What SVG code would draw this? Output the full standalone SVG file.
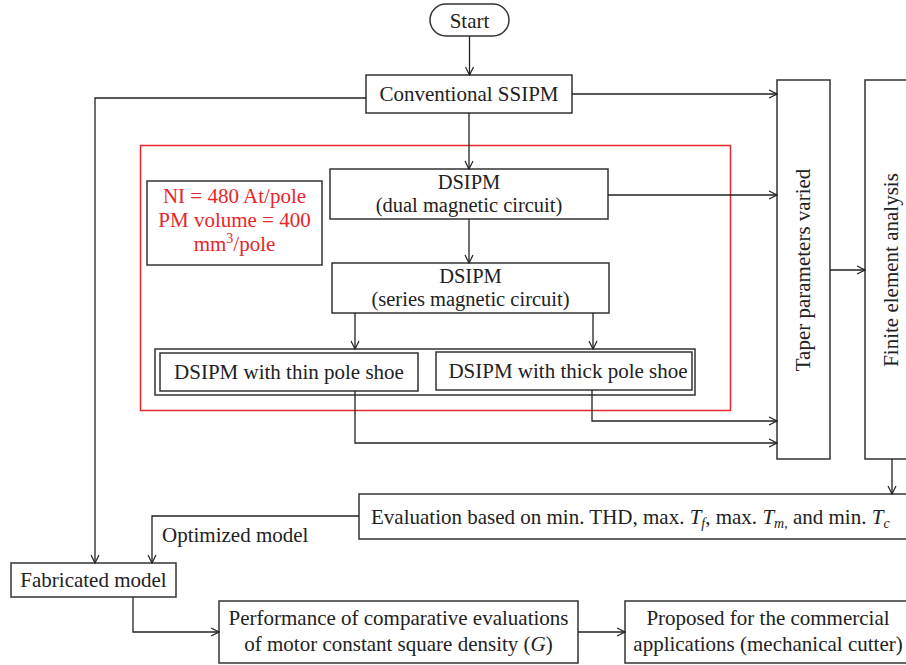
<svg xmlns="http://www.w3.org/2000/svg" width="906" height="665" viewBox="0 0 906 665">
<defs>
<marker id="arr" viewBox="0 0 10 10" refX="9" refY="5" markerWidth="10" markerHeight="10" markerUnits="userSpaceOnUse" orient="auto">
<path d="M1,1 L9,5 L1,9" fill="none" stroke="#222" stroke-width="1.2"/>
</marker>
<style>
.box{fill:#fff;stroke:#333;stroke-width:1.5}
.t{font-family:"Liberation Serif","Times New Roman",serif;font-size:21px;fill:#222;text-anchor:middle}
.s{font-family:"Liberation Serif","Times New Roman",serif;font-size:21px;fill:#222;text-anchor:start}
.two{font-size:20.5px}
.red{fill:#e8262b}
.c{fill:none;stroke:#222;stroke-width:1.3}
.it{font-style:italic}
</style>
</defs>
<rect x="0" y="0" width="906" height="665" fill="#fff"/>
<rect x="140.5" y="145.5" width="590" height="265" fill="none" stroke="#e8262b" stroke-width="1.5"/>
<g id="start"><rect class="box" x="430" y="4" width="79" height="32" rx="16"/><text class="t" x="469.5" y="28">Start</text></g>
<g id="conventional"><rect class="box" x="366" y="75" width="206" height="38"/><text class="t" x="469" y="101">Conventional SSIPM</text></g>
<g id="note"><rect class="box" x="147" y="181" width="175" height="84"/><text class="t red" x="234.5" y="203">NI = 480 At/pole</text><text class="t red" x="234.5" y="227">PM volume = 400</text><text class="t red" x="234.5" y="251">mm<tspan font-size="14" dy="-8">3</tspan><tspan dy="8">/pole</tspan></text></g>
<g id="dual"><rect class="box" x="330" y="169" width="278" height="50"/><text class="t two" x="469" y="188.5">DSIPM</text><text class="t two" x="469" y="211.5">(dual magnetic circuit)</text></g>
<g id="series"><rect class="box" x="332" y="263" width="277" height="50"/><text class="t two" x="470.5" y="282.5">DSIPM</text><text class="t two" x="470.5" y="305.5">(series magnetic circuit)</text></g>
<g id="variants"><rect class="box" x="155" y="349" width="540" height="46"/></g>
<g id="thin"><rect class="box" x="160" y="353" width="258" height="38"/><text class="t" x="289" y="379">DSIPM with thin pole shoe</text></g>
<g id="thick"><rect class="box" x="436" y="352" width="256" height="38"/><text class="t" x="568" y="378">DSIPM with thick pole shoe</text></g>
<g id="taper"><rect class="box" x="777" y="80" width="53" height="379"/><text class="t" transform="translate(810,270) rotate(-90)">Taper parameters varied</text></g>
<g id="fea"><rect class="box" x="865" y="80" width="60" height="379"/><text class="t" transform="translate(898,270) rotate(-90)">Finite element analysis</text></g>
<g id="evaluation"><rect class="box" x="359" y="494" width="570" height="45"/><text class="s" x="371" y="524">Evaluation based on min. THD, max. <tspan class="it">T</tspan><tspan class="it" font-size="14" dy="4">f</tspan><tspan dy="-4">, max. </tspan><tspan class="it">T</tspan><tspan class="it" font-size="14" dy="4">m,</tspan><tspan dy="-4"> and min. </tspan><tspan class="it">T</tspan><tspan class="it" font-size="14" dy="4">c</tspan></text></g>
<g id="fabricated"><rect class="box" x="11" y="563" width="165" height="34"/><text class="t" x="93.5" y="587">Fabricated model</text></g>
<g id="performance"><rect class="box" x="219" y="601" width="359" height="62"/><text class="t" x="398.5" y="625">Performance of comparative evaluations</text><text class="t" x="398.5" y="651">of motor constant square density (<tspan class="it">G</tspan>)</text></g>
<g id="proposed"><rect class="box" x="625" y="601" width="300" height="62"/><text class="t" x="768" y="625">Proposed for the commercial</text><text class="t" x="768" y="651">applications (mechanical cutter)</text></g>
<g id="connectors">
<path class="c" d="M469.5,36 V75" marker-end="url(#arr)"/>
<path class="c" d="M366,98 H95 V563" marker-end="url(#arr)"/>
<path class="c" d="M572,94 H777" marker-end="url(#arr)"/>
<path class="c" d="M469,113 V169" marker-end="url(#arr)"/>
<path class="c" d="M608,195 H777" marker-end="url(#arr)"/>
<path class="c" d="M469,219 V263" marker-end="url(#arr)"/>
<path class="c" d="M355,313 V349" marker-end="url(#arr)"/>
<path class="c" d="M593,313 V349" marker-end="url(#arr)"/>
<path class="c" d="M355,391 V443 H777" marker-end="url(#arr)"/>
<path class="c" d="M592,390 V421 H777" marker-end="url(#arr)"/>
<path class="c" d="M830,270 H865" marker-end="url(#arr)"/>
<path class="c" d="M892,459 V494" marker-end="url(#arr)"/>
<path class="c" d="M359,516 H152 V563" marker-end="url(#arr)"/>
<path class="c" d="M133,597 V632 H219" marker-end="url(#arr)"/>
<path class="c" d="M578,632 H625" marker-end="url(#arr)"/>
</g>
<text class="s" x="162" y="542">Optimized model</text>
</svg>
